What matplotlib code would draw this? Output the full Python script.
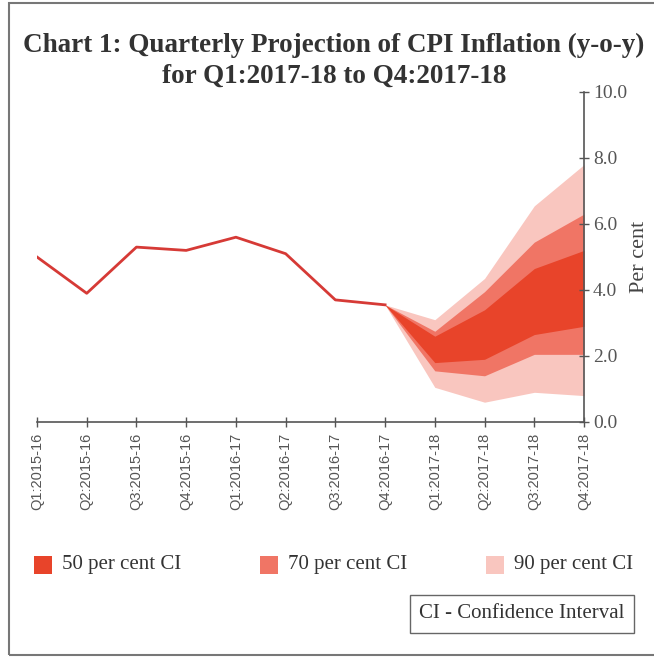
import matplotlib
matplotlib.use("Agg")
import matplotlib.pyplot as plt
from matplotlib.patches import Rectangle, Patch
import numpy as np

quarters = ["Q1:2015-16", "Q2:2015-16", "Q3:2015-16", "Q4:2015-16",
            "Q1:2016-17", "Q2:2016-17", "Q3:2016-17", "Q4:2016-17",
            "Q1:2017-18", "Q2:2017-18", "Q3:2017-18", "Q4:2017-18"]
actual = [5.0, 3.9, 5.3, 5.2, 5.6, 5.1, 3.7, 3.55]

# fan chart bands: Q4:2016-17 .. Q4:2017-18
ci90_hi = [3.55, 3.1, 4.35, 6.55, 7.8]
ci70_hi = [3.55, 2.75, 3.95, 5.45, 6.3]
ci50_hi = [3.55, 2.6, 3.4, 4.65, 5.2]
ci50_lo = [3.55, 1.8, 1.9, 2.65, 2.9]
ci70_lo = [3.55, 1.55, 1.4, 2.05, 2.05]
ci90_lo = [3.55, 1.05, 0.6, 0.9, 0.8]

c50 = "#e8442a"
c70 = "#f07565"
c90 = "#f9c6bf"
cline = "#d63a36"

W, H = 654, 658
fig = plt.figure(figsize=(W / 100, H / 100), dpi=100)
ax = fig.add_axes([37 / W, 1 - 422 / H, (584 - 37) / W, (422 - 92) / H])

x_all = np.arange(len(quarters))
x_fan = x_all[len(actual) - 1:]

ax.fill_between(x_fan, ci90_lo, ci90_hi, color=c90, lw=0)
ax.fill_between(x_fan, ci70_lo, ci70_hi, color=c70, lw=0)
ax.fill_between(x_fan, ci50_lo, ci50_hi, color=c50, lw=0)
ax.plot(x_all[:len(actual)], actual, color=cline, lw=2)

ax.set_xlim(0, len(quarters) - 1)
ax.set_ylim(0, 10)
ax.yaxis.tick_right()
ax.yaxis.set_label_position("right")
ax.set_yticks(np.arange(0, 10.1, 2))
ax.set_yticklabels([f"{v:.1f}" for v in np.arange(0, 10.1, 2)],
                   fontfamily="Liberation Serif", fontsize=14, color="#555555")
ax.set_ylabel("Per cent", fontfamily="Liberation Serif", fontsize=16,
              color="#444444", labelpad=2)
ax.set_xticks(x_all)
ax.set_xticklabels(quarters, rotation=90, fontfamily="Liberation Sans",
                   fontsize=10.5, color="#555555")
ax.tick_params(axis="both", direction="inout", length=7, width=1, color="#555555",
               pad=3)
ax.tick_params(axis="x", pad=4)
for s in ["left", "top"]:
    ax.spines[s].set_visible(False)
for s in ["right", "bottom"]:
    ax.spines[s].set_color("#555555")
    ax.spines[s].set_linewidth(1.2)

fig.text(334 / W, 1 - 45 / H, "Chart 1: Quarterly Projection of CPI Inflation (y-o-y)",
         ha="center", va="center", fontfamily="Liberation Serif", fontweight="bold",
         fontsize=19.5, color="#333333")
fig.text(334 / W, 1 - 76 / H, "for Q1:2017-18 to Q4:2017-18",
         ha="center", va="center", fontfamily="Liberation Serif", fontweight="bold",
         fontsize=19.5, color="#333333")

# legend
handles = [Patch(color=c50), Patch(color=c70), Patch(color=c90)]
labels = ["50 per cent CI", "70 per cent CI", "90 per cent CI"]
for (h, lab, xp) in zip(handles, labels, [34, 260, 486]):
    fig.patches.append(Rectangle((xp / W, 1 - 574 / H), 18 / W, 18 / H,
                                 transform=fig.transFigure, color=h.get_facecolor(),
                                 lw=0))
    fig.text((xp + 28) / W, 1 - 565 / H, lab, ha="left", va="center",
             fontfamily="Liberation Serif", fontsize=15, color="#333333")

fig.text(522 / W, 1 - 614 / H, "CI - Confidence Interval", ha="center", va="center",
         fontfamily="Liberation Serif", fontsize=15, color="#333333",
         bbox=dict(boxstyle="square,pad=0.45", fc="white", ec="#666666", lw=1))

# outer border
fig.patches.append(Rectangle((9 / W, 3 / H), 1.0, 1 - 6 / H,
                             transform=fig.transFigure, fill=False,
                             ec="#777777", lw=1.5))

fig.savefig("out.png", dpi=100)
